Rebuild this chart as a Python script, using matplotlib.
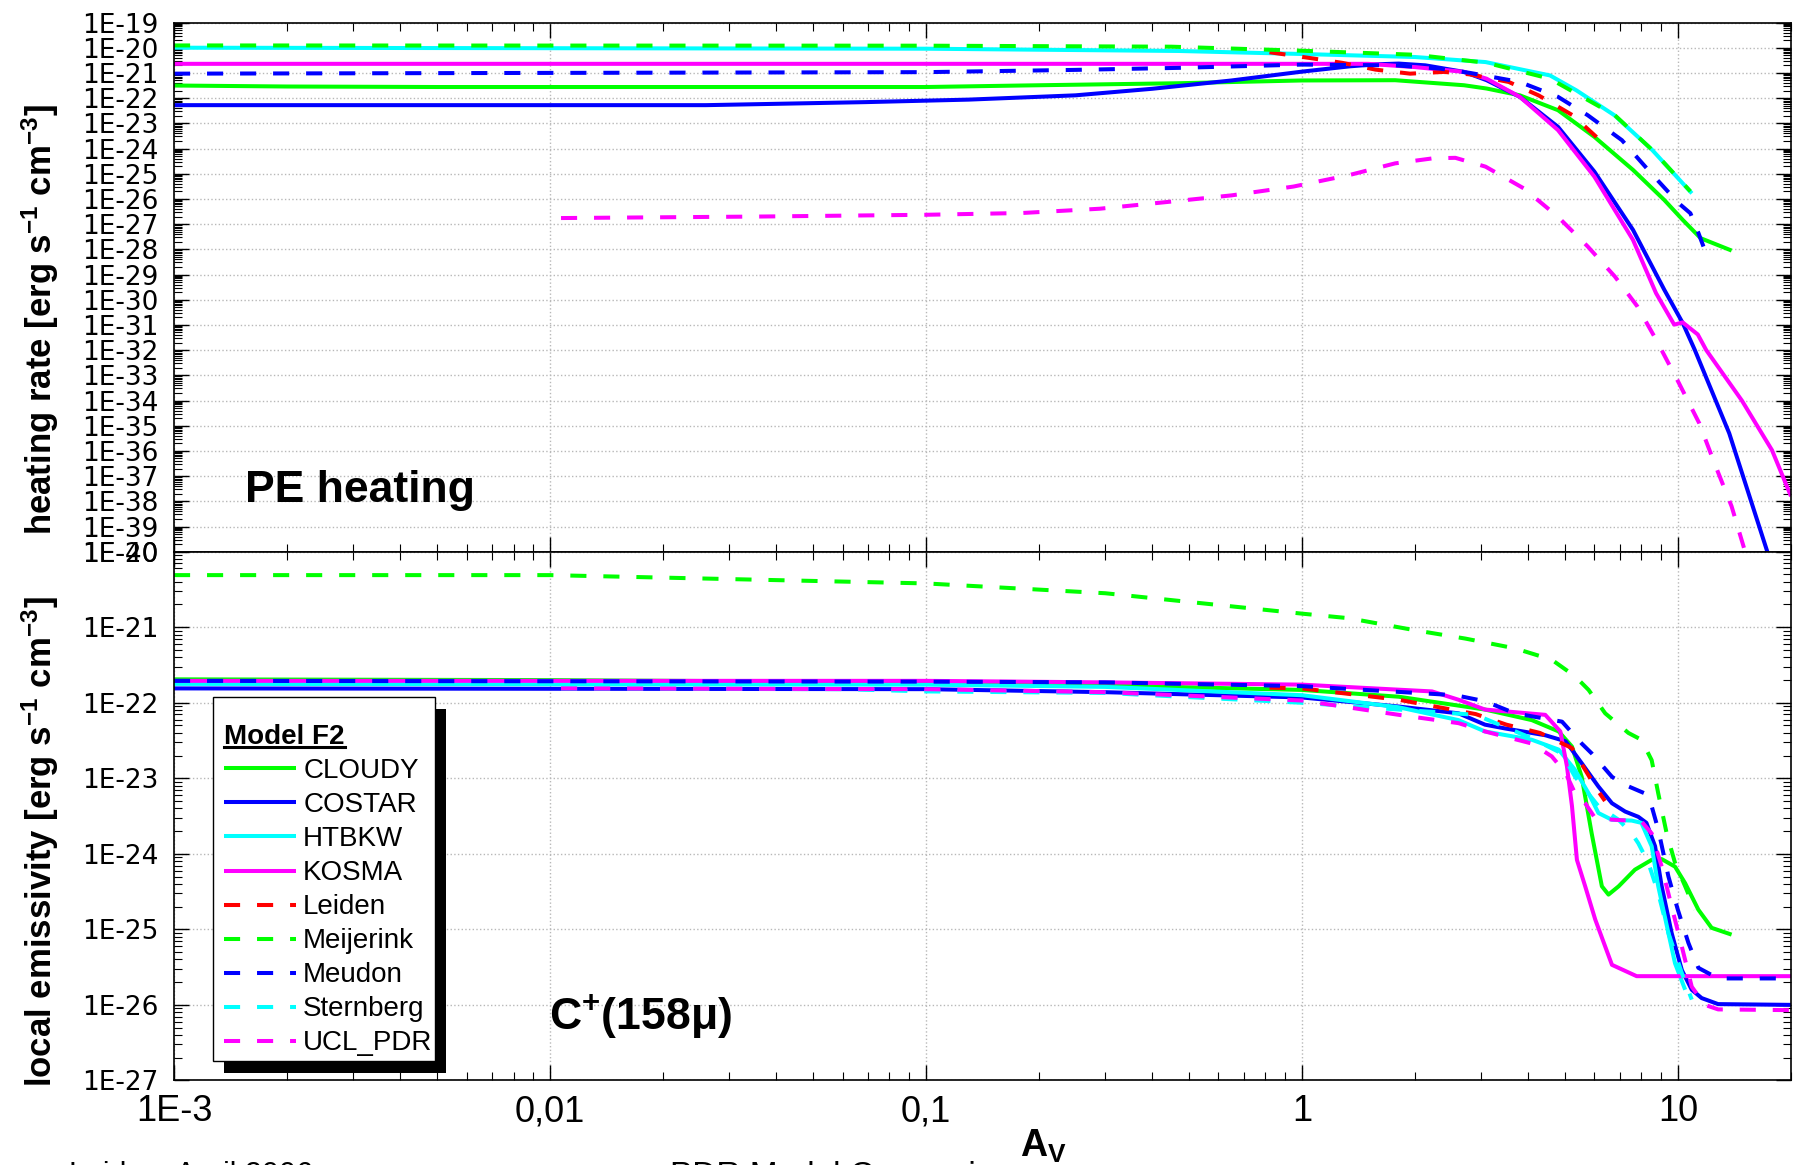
import matplotlib
matplotlib.use("Agg")
import matplotlib.pyplot as plt
import numpy as np
from matplotlib.lines import Line2D
from matplotlib.patches import Rectangle
from matplotlib.ticker import FixedLocator, FuncFormatter, LogLocator, NullFormatter
from matplotlib.transforms import IdentityTransform

plt.rcParams["font.family"] = ["Liberation Sans", "DejaVu Sans"]
plt.rcParams["mathtext.fontset"] = "custom"
plt.rcParams["mathtext.rm"] = "Liberation Sans:bold"
plt.rcParams["mathtext.it"] = "Liberation Sans:bold"
plt.rcParams["mathtext.bf"] = "Liberation Sans:bold"
plt.rcParams["mathtext.default"] = "rm"

# ---- data (A_V, log10 of value) ----
x_ticks = [1e-3, 1e-2, 1e-1, 1.0, 10.0]
x_ticklabels = ["1E-3", "0,01", "0,1", "1", "10"]

models = ["CLOUDY", "COSTAR", "HTBKW", "KOSMA", "Leiden",
          "Meijerink", "Meudon", "Sternberg", "UCL_PDR"]
colors = ["#00ff00", "#0000ff", "#00ffff", "#ff00ff", "#ff0000",
          "#00ff00", "#0000ff", "#00ffff", "#ff00ff"]
dashed = [False, False, False, False, True, True, True, True, True]

# PE heating rate
heat_cloudy_x = [1e-3, 2e-3, 5e-3, 0.01, 0.1, 0.18, 0.47, 1.0, 1.77, 2.7, 3.1, 3.8, 4.8, 6.0, 7.6, 9.2, 10.3, 11.5, 13.9]
heat_cloudy_y = [-21.50, -21.54, -21.56, -21.56, -21.56, -21.50, -21.41, -21.30, -21.29, -21.49, -21.62, -21.89,
                 -22.48, -23.54, -24.85, -26.04, -26.83, -27.56, -28.05]
heat_costar_x = [1e-3, 0.026, 0.069, 0.13, 0.25, 0.40, 0.65, 1.0, 1.34, 1.57, 1.81, 2.13, 2.7, 3.1, 3.8, 4.8,
                 6.0, 7.6, 9.2, 10.3, 11.1, 13.7, 17.3, 17.6]
heat_costar_y = [-22.28, -22.28, -22.16, -22.06, -21.89, -21.63, -21.30, -20.95, -20.74, -20.66, -20.63, -20.70,
                 -20.96, -21.29, -21.95, -23.14, -24.92, -27.23, -29.60, -30.92, -32.0, -35.3, -40.0, -40.3]
heat_htbkw_x = [1e-3, 0.1, 0.47, 1.0, 2.0, 3.08, 4.57, 5.37, 6.78, 8.55, 10.9]
heat_htbkw_y = [-20.00, -20.04, -20.13, -20.25, -20.37, -20.57, -21.10, -21.69, -22.68, -24.06, -25.78]
heat_kosma_x = [1e-3, 1.5, 2.0, 2.7, 3.1, 3.8, 4.8, 6.0, 7.6, 8.75, 9.78, 10.3, 11.3, 11.9, 14.8, 17.8, 20.0]
heat_kosma_y = [-20.64, -20.64, -20.77, -20.96, -21.23, -21.95, -23.27, -25.12, -27.63, -29.74, -30.99, -30.90,
                -31.38, -32.0, -34.0, -35.97, -37.8]
heat_leiden_x = [0.82, 1.04, 1.28, 1.57, 1.94, 2.39, 2.8, 3.55, 4.26, 5.25, 6.4]
heat_leiden_y = [-20.18, -20.40, -20.60, -20.87, -21.03, -20.96, -21.06, -21.36, -21.89, -22.68, -23.85]
heat_meijerink_x = [1e-3, 0.1, 0.45, 1.0, 2.0, 3.1, 4.57, 6.8, 8.55, 10.8]
heat_meijerink_y = [-19.91, -19.92, -19.96, -20.12, -20.28, -20.60, -21.23, -22.68, -24.06, -25.70]
heat_meudon_x = [1e-3, 0.1, 0.25, 0.47, 0.75, 1.0, 1.77, 2.33, 2.8, 3.8, 4.8, 5.76, 7.1, 8.5, 10.05, 10.8, 11.35, 11.7]
heat_meudon_y = [-21.03, -20.97, -20.88, -20.80, -20.72, -20.67, -20.70, -20.83, -21.0, -21.36, -21.95, -22.68,
                 -23.67, -24.99, -26.17, -26.57, -27.36, -27.89]
heat_ucl_x = [0.0107, 0.036, 0.1, 0.18, 0.29, 0.44, 0.65, 0.95, 1.34, 1.77, 2.23, 2.56, 3.08, 3.89, 4.79, 5.76,
              6.8, 7.8, 8.75, 10.06, 11.4, 12.6, 13.9, 15.1, 15.3]
heat_ucl_y = [-26.76, -26.70, -26.63, -26.56, -26.39, -26.12, -25.86, -25.51, -25.05, -24.59, -24.39, -24.37,
              -24.72, -25.58, -26.70, -27.89, -29.08, -30.26, -31.58, -33.3, -34.9, -36.6, -38.2, -40.0, -40.3]

# C+ 158 micron local emissivity
cii_cloudy_x = [1e-3, 0.01, 0.1, 0.3, 1.0, 1.81, 3.07, 4.09, 4.82, 5.23, 5.55, 5.9, 6.28, 6.54, 6.96, 7.69,
                8.52, 9.06, 9.83, 10.46, 11.34, 12.3, 13.9]
cii_cloudy_y = [-21.69, -21.70, -21.73, -21.77, -21.83, -21.92, -22.09, -22.23, -22.38, -22.58, -22.98, -23.73,
                -24.43, -24.54, -24.43, -24.21, -24.08, -24.07, -24.17, -24.39, -24.74, -24.98, -25.07]
cii_costar_x = [1e-3, 0.1, 0.3, 1.0, 1.81, 2.61, 3.07, 3.47, 4.44, 5.03, 5.55, 6.15, 6.68, 7.24, 7.85, 8.25,
                8.7, 9.06, 9.63, 10.25, 10.89, 11.57, 12.8, 20.0]
cii_costar_y = [-21.81, -21.82, -21.86, -21.93, -22.05, -22.14, -22.29, -22.34, -22.43, -22.51, -22.80, -23.11,
                -23.33, -23.44, -23.51, -23.59, -23.90, -24.43, -25.05, -25.54, -25.80, -25.91, -25.99, -26.00]
cii_htbkw_x = [1e-3, 0.1, 0.3, 1.0, 1.81, 2.61, 3.07, 4.09, 4.82, 5.33, 5.79, 6.15, 6.68, 7.54, 8.0, 8.52,
               8.87, 9.44, 9.83, 10.46]
cii_htbkw_y = [-21.75, -21.76, -21.79, -21.90, -22.06, -22.23, -22.38, -22.49, -22.62, -22.89, -23.20, -23.46,
               -23.55, -23.56, -23.59, -23.90, -24.43, -25.05, -25.45, -25.80]
cii_kosma_x = [1e-3, 0.1, 0.3, 1.0, 2.22, 2.61, 3.07, 4.44, 4.87, 5.07, 5.23, 5.39, 5.67, 6.03, 6.68, 7.77, 20.0]
cii_kosma_y = [-21.71, -21.71, -21.73, -21.76, -21.85, -21.96, -22.09, -22.16, -22.38, -22.84, -23.37, -24.08,
               -24.43, -24.87, -25.47, -25.62, -25.62]
cii_leiden_x = [0.82, 1.0, 1.81, 2.9, 3.5, 4.3, 5.23, 6.1, 6.4]
cii_leiden_y = [-21.80, -21.81, -21.96, -22.15, -22.29, -22.40, -22.60, -23.15, -23.30]
cii_meijerink_x = [1e-3, 0.01, 0.1, 0.3, 1.0, 1.33, 2.0, 2.72, 3.69, 4.62, 5.33, 5.79, 6.41, 7.39, 8.0, 8.52,
                   8.87, 9.34, 9.83, 10.46, 11.1]
cii_meijerink_y = [-20.31, -20.31, -20.42, -20.55, -20.82, -20.88, -21.04, -21.15, -21.28, -21.43, -21.65, -21.83,
                   -22.14, -22.40, -22.49, -22.76, -23.20, -23.73, -24.12, -24.43, -24.74]
cii_meudon_x = [1e-3, 0.1, 0.3, 1.0, 1.47, 2.56, 3.07, 3.69, 4.92, 5.55, 5.9, 6.68, 7.1, 8.17, 8.52, 8.87,
                9.44, 10.0, 10.67, 11.34, 12.8, 20.0]
cii_meudon_y = [-21.71, -21.72, -21.73, -21.78, -21.83, -21.90, -21.98, -22.14, -22.25, -22.54, -22.67, -22.98,
                -23.07, -23.20, -23.37, -23.68, -24.30, -24.74, -25.18, -25.51, -25.65, -25.65]
cii_sternberg_x = [0.0107, 0.06, 0.1, 0.3, 1.0, 1.81, 2.9, 4.09, 4.82, 5.03, 5.33, 5.67, 6.15, 6.96, 7.54, 7.85,
                   8.35, 8.87, 9.44, 10.25, 10.89]
cii_sternberg_y = [-21.81, -21.82, -21.85, -21.87, -22.00, -22.09, -22.16, -22.47, -22.65, -22.76, -22.98, -23.15,
                   -23.37, -23.55, -23.73, -23.86, -24.12, -24.52, -25.05, -25.58, -25.93]
cii_ucl_x = [0.0107, 0.1, 0.3, 1.0, 1.81, 2.61, 3.07, 4.09, 4.62, 5.03, 5.33, 5.67, 6.03, 6.82, 8.0, 8.52,
             9.06, 9.63, 10.25, 10.89, 11.8, 12.8, 20.0]
cii_ucl_y = [-21.81, -21.82, -21.86, -21.97, -22.16, -22.27, -22.38, -22.54, -22.71, -22.93, -23.20, -23.33,
             -23.53, -23.55, -23.57, -23.73, -24.17, -24.70, -25.23, -25.76, -26.00, -26.06, -26.07]

heating = {
    "CLOUDY": (heat_cloudy_x, heat_cloudy_y),
    "COSTAR": (heat_costar_x, heat_costar_y),
    "HTBKW": (heat_htbkw_x, heat_htbkw_y),
    "KOSMA": (heat_kosma_x, heat_kosma_y),
    "Leiden": (heat_leiden_x, heat_leiden_y),
    "Meijerink": (heat_meijerink_x, heat_meijerink_y),
    "Meudon": (heat_meudon_x, heat_meudon_y),
    "UCL_PDR": (heat_ucl_x, heat_ucl_y),
}
emissivity = {
    "CLOUDY": (cii_cloudy_x, cii_cloudy_y),
    "COSTAR": (cii_costar_x, cii_costar_y),
    "HTBKW": (cii_htbkw_x, cii_htbkw_y),
    "KOSMA": (cii_kosma_x, cii_kosma_y),
    "Leiden": (cii_leiden_x, cii_leiden_y),
    "Meijerink": (cii_meijerink_x, cii_meijerink_y),
    "Meudon": (cii_meudon_x, cii_meudon_y),
    "Sternberg": (cii_sternberg_x, cii_sternberg_y),
    "UCL_PDR": (cii_ucl_x, cii_ucl_y),
}

W, H = 1793, 1165
fig = plt.figure(figsize=(W / 100, H / 100), dpi=100)
left, right = 174 / W, 1791 / W
ax1 = fig.add_axes([left, 1 - 551.7 / H, right - left, (551.7 - 22.5) / H])
ax2 = fig.add_axes([left, 1 - 1080.4 / H, right - left, (1080.4 - 551.7) / H])

LW = 2.9
DASH = (0, (4.0, 4.2))


def draw(ax, data):
    for name, col, dsh in zip(models, colors, dashed):
        if name not in data:
            continue
        xs, ly = data[name]
        ax.plot(xs, 10.0 ** np.array(ly), color=col, lw=LW,
                linestyle=DASH if dsh else "-", label=name, solid_capstyle="butt")


draw(ax1, heating)
draw(ax2, emissivity)

exp_fmt = FuncFormatter(lambda v, p: "1E%d" % int(round(np.log10(v))))
for ax, (lo, hi) in ((ax1, (-40, -19)), (ax2, (-27, -20))):
    ax.set_xscale("log")
    ax.set_yscale("log")
    ax.set_xlim(1e-3, 20)
    ax.set_ylim(10.0 ** lo, 10.0 ** hi)
    ax.xaxis.set_major_locator(FixedLocator(x_ticks))
    ax.xaxis.set_minor_locator(LogLocator(base=10, subs=np.arange(2, 10), numticks=60))
    ax.xaxis.set_minor_formatter(NullFormatter())
    ax.yaxis.set_major_locator(FixedLocator(10.0 ** np.arange(lo, hi + 1)))
    ax.yaxis.set_minor_locator(LogLocator(base=10, subs=np.arange(2, 10), numticks=200))
    ax.yaxis.set_major_formatter(exp_fmt)
    ax.yaxis.set_minor_formatter(NullFormatter())
    ax.tick_params(which="both", direction="in", top=True, right=True)
    ax.tick_params(which="major", length=11, width=1.0)
    ax.tick_params(which="minor", length=6, width=0.8)
    ax.tick_params(axis="y", labelsize=19, pad=11)
    for lab in ax.get_yticklabels():
        lab.set_family("DejaVu Sans")
    ax.grid(True, which="major", linestyle=":", color="#b8b8b8", linewidth=1.0)
    for sp in ax.spines.values():
        sp.set_linewidth(1.2)

ax1.tick_params(axis="x", labelbottom=False)
ax2.set_xticklabels(x_ticklabels, family=["Liberation Sans Narrow", "Liberation Sans"], fontsize=26)
ax2.tick_params(axis="x", pad=10)

fig.text(40 / W, 1 - 320 / H, "heating rate [erg s$^{-1}$ cm$^{-3}$]", rotation=90,
         ha="center", va="center", fontsize=25, fontweight="bold")
fig.text(40 / W, 1 - 842 / H, "local emissivity [erg s$^{-1}$ cm$^{-3}$]", rotation=90,
         ha="center", va="center", fontsize=25, fontweight="bold")
fig.text(245 / W, 1 - 502 / H, "PE heating", fontsize=32, fontweight="bold", va="baseline")
fig.text(549 / W, 1 - 1030 / H, "C$^{+}$(158μ)", fontsize=32, fontweight="bold", va="baseline")
fig.text(1043 / W, 1 - 1157 / H, "A$_{V}$", fontsize=27, fontweight="bold", ha="center", va="baseline")
fig.text(69 / W, 1 - 1161 / H, "Leiden, April 2006", fontsize=22, va="top")
fig.text(670 / W, 1 - 1161 / H, "PDR Model Comparison", fontsize=24, va="top")

# legend: content from the plotted lines, frame + shadow drawn as in the original
leg = ax2.legend(loc="upper left", bbox_to_anchor=(224 / W, 1 - 724 / H), bbox_transform=fig.transFigure,
                 borderaxespad=0, borderpad=0, fontsize=20, title="Model F2",
                 title_fontproperties={"weight": "bold", "size": 20}, alignment="left",
                 frameon=False, handlelength=2.6, handletextpad=0.25, labelspacing=0.29)
leg.set_zorder(6)
box_x0, box_y0, box_w, box_h = 213 / W, 1 - 1061 / H, 222 / W, 364 / H
ax2.add_artist(Rectangle((box_x0 + 11 / W, box_y0 - 12 / H), box_w, box_h, transform=fig.transFigure,
                         facecolor="black", edgecolor="none", zorder=5.5))
ax2.add_artist(Rectangle((box_x0, box_y0), box_w, box_h, transform=fig.transFigure,
                         facecolor="white", edgecolor="black", lw=1.0, zorder=5.6))

fig.canvas.draw()
tb = leg.get_title().get_window_extent()
ul = Line2D([tb.x0, tb.x1], [tb.y0 + 3, tb.y0 + 3], transform=IdentityTransform(), color="black", lw=2.2)
fig.add_artist(ul)
ul.set_zorder(10)

fig.savefig("out.png", dpi=100)
